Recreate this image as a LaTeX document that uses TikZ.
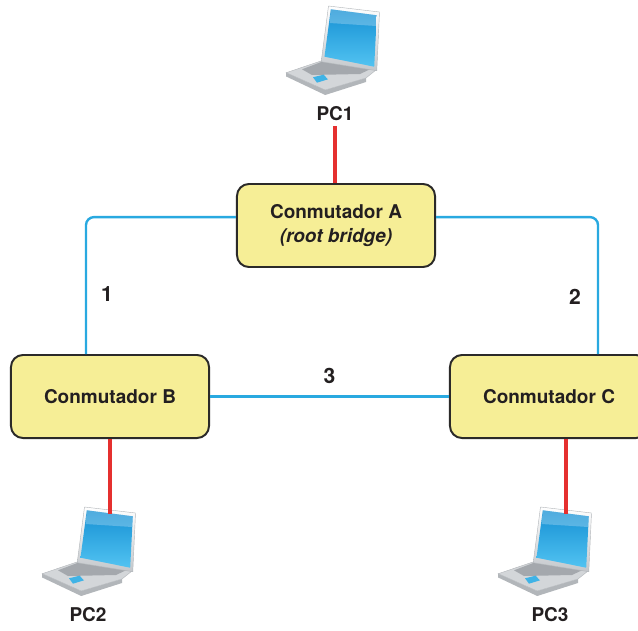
\documentclass[tikz,border=0pt]{standalone}
\usepackage{fontspec}
\setmainfont{TeX Gyre Heros}

\definecolor{swfill}{HTML}{F6EE96}
\definecolor{swdraw}{HTML}{2B2A29}
\definecolor{inkgray}{HTML}{231F20}
\definecolor{lanblue}{HTML}{29A9E0}
\definecolor{pcred}{HTML}{E5302F}
\definecolor{lapframe}{HTML}{C3C7CB}
\definecolor{lapbase}{HTML}{D3D6D9}
\definecolor{lapkeys}{HTML}{A4A8AD}
\definecolor{lapedge}{HTML}{B2B6BA}
\definecolor{lappad}{HTML}{3FB3E6}
\definecolor{scrtop}{HTML}{1590D4}
\definecolor{scrbot}{HTML}{52C3F1}

% notebook icon, origin at the middle of the top edge of the lid
\tikzset{
  laptop/.pic={
    % base
    \fill[lapedge] (-67.8,63.7) -- (-28.8,81) -- (12,69) -- (12,73) -- (-28.8,86) -- (-67.8,67.5) -- cycle;
    \filldraw[fill=lapbase,draw=lapedge,line width=0.3pt]
      (-32.2,51.7) -- (22,61) -- (12,69) -- (-28.8,81) -- (-67.8,63.7) -- cycle;
    \fill[lapkeys] (-52,60.3) -- (-32,52.7) -- (16,60.3) -- (6,65) -- (-42,66) -- cycle;
    \fill[lappad] (-41,68.3) -- (-30.5,65.7) -- (-26,70.3) -- (-37,73.7) -- cycle;
    % lid
    \shade[top color=white,bottom color=lapframe,draw=lapedge,line width=0.3pt]
      (-25.5,-3) -- (25.5,3) -- (22.8,61.7) -- (-32.8,52.7) -- cycle;
    \shade[top color=scrtop,bottom color=scrbot]
      (-23.2,0.3) -- (22.8,6.3) -- (20.2,57.7) -- (-29.5,47.7) -- cycle;
    \fill[white,opacity=0.25] (-23.2,0.3) -- (22.8,6.3) -- (22.2,17) -- (-24.5,14) -- cycle;
    \coordinate (-top) at (0,0);
  }
}

\begin{document}
\begin{tikzpicture}[
  x=0.025cm, y=-0.025cm,
  switch/.style={draw=swdraw,fill=swfill,line width=1.4pt,rounded corners=0.3cm,
    minimum width=4.95cm,minimum height=2.075cm,align=center,text=inkgray,
    font=\fontsize{13.5}{17.7}\selectfont\bfseries},
  pclabel/.style={text=inkgray,font=\fontsize{13.5}{16}\selectfont\bfseries},
  num/.style={text=inkgray,inner sep=0pt,font=\fontsize{15}{18}\selectfont\bfseries},
  bluelink/.style={draw=lanblue,line width=1.7pt,rounded corners=0.2cm},
  redlink/.style={draw=pcred,line width=2.8pt}
]
\useasboundingbox (0,0) rectangle (638,631);

% --- Switches ---
\node[switch] (A) at (336,225.5) {Conmutador A\\\textit{(root bridge)}};
\node[switch] (B) at (110,396.5) {Conmutador B};
\node[switch] (C) at (549,396.5) {Conmutador C};

% --- PCs ---
\pic (pc1) at (354,9) {laptop};
\pic (pc2) at (110,510) {laptop};
\pic (pc3) at (566,510) {laptop};
\node[pclabel] (pc1lbl) at (335,114) {PC1};
\node[pclabel] (pc2lbl) at (88,615) {PC2};
\node[pclabel] (pc3lbl) at (550,615) {PC3};

% --- Links between switches ---
\draw[bluelink] ([yshift=0.21cm]A.west) -| ([xshift=-0.6cm]B.north)
  node[num,pos=0.78,right=0.35cm] {1};
\draw[bluelink] ([yshift=0.21cm]A.east) -| ([xshift=1.225cm]C.north)
  node[num,pos=0.79,left=0.4cm] {2};
\draw[bluelink] (B.east) -- (C.west)
  node[num,midway,above=0.3cm] {3};

% --- PC cables ---
\draw[redlink] (pc1lbl.south) -- (pc1lbl.south |- A.north);
\draw[redlink] (B.south -| pc2-top) -- ([yshift=-0.1cm]pc2-top);
\draw[redlink] (C.south -| pc3-top) -- ([yshift=-0.1cm]pc3-top);

\end{tikzpicture}
\end{document}
